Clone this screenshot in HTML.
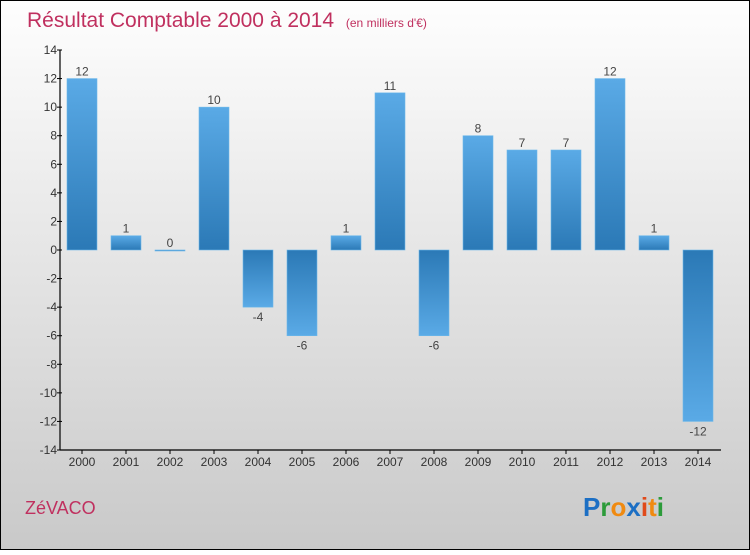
<!DOCTYPE html>
<html><head><meta charset="utf-8"><style>
body{margin:0;width:750px;height:550px;overflow:hidden;font-family:"Liberation Sans",sans-serif}
</style></head><body>
<svg width="750" height="550" xmlns="http://www.w3.org/2000/svg">
<defs>
<linearGradient id="bg" x1="0" y1="0" x2="0" y2="1"><stop offset="0" stop-color="#fefefe"/><stop offset="1" stop-color="#c9c9c9"/></linearGradient>
<linearGradient id="gp" x1="0" y1="0" x2="0" y2="1"><stop offset="0" stop-color="#5aaae6"/><stop offset="1" stop-color="#2b79b6"/></linearGradient>
<linearGradient id="gn" x1="0" y1="0" x2="0" y2="1"><stop offset="0" stop-color="#2b79b6"/><stop offset="1" stop-color="#5aaae6"/></linearGradient>
</defs>
<rect x="0.5" y="0.5" width="749" height="549" fill="url(#bg)" stroke="#000"/>
<text x="27" y="27" font-size="21" fill="#c0305f">Résultat Comptable 2000 à 2014 <tspan font-size="12" dx="6">(en milliers d'€)</tspan></text>
<g id="plot"></g>
<text x="25" y="514" font-size="18" fill="#c0305f">ZéVACO</text>
<text x="583" y="516" font-size="26" font-weight="bold"><tspan fill="#1c6fc4">P</tspan><tspan fill="#2c9b3a">r</tspan><tspan fill="#f08a10">o</tspan><tspan fill="#1c6fc4">x</tspan><tspan fill="#e04a1a">i</tspan><tspan fill="#f08a10">t</tspan><tspan fill="#2c9b3a">i</tspan></text>
</svg>
<script>
const years=["2000","2001","2002","2003","2004","2005","2006","2007","2008","2009","2010","2011","2012","2013","2014"];
const values=[12,1,0,10,-4,-6,1,11,-6,8,7,7,12,1,-12];
const yTicks=[14,12,10,8,6,4,2,0,-2,-4,-6,-8,-10,-12,-14];
const NS="http://www.w3.org/2000/svg";
const g=document.getElementById('plot');
const x0=60,x1=721,yTop=50,yBot=450,vMax=14,vMin=-14;
const band=44;
function y(v){return yTop+(vMax-v)/(vMax-vMin)*(yBot-yTop);}
function xc(i){return x0+22+i*band;}
function el(t,a){const e=document.createElementNS(NS,t);for(const k in a)e.setAttribute(k,a[k]);g.appendChild(e);return e;}
values.forEach((v,i)=>{
  const top=Math.min(y(v),y(0)),h=Math.max(Math.abs(y(v)-y(0)),1);
  const r=el('rect',{x:xc(i)-15,y:top,width:30,height:h,fill:v>=0?'url(#gp)':'url(#gn)',stroke:'#6db8ea','stroke-width':0.6});
  
  
  const t=el('text',{x:xc(i),y:v>=0?y(v)-3:y(v)+14,'text-anchor':'middle','font-size':12,fill:'#444'});
  t.textContent=(v<0?'-'+Math.abs(v):v);
  
  
  el('line',{x1:xc(i),x2:xc(i),y1:yBot,y2:yBot+4,stroke:'#000'});
  const xl=el('text',{x:xc(i),y:yBot+16,'text-anchor':'middle','font-size':12,fill:'#333'});
  xl.textContent=years[i];
  
  
});
yTicks.forEach(v=>{
  el('line',{x1:x0-3,x2:x0+2,y1:y(v),y2:y(v),stroke:'#000'});
  const t=el('text',{x:x0-3,y:y(v)+4,'text-anchor':'end','font-size':12,fill:'#333'});
  t.textContent=v<0?'-'+Math.abs(v):v;
  
  
});
const ya=el('line',{x1:x0,x2:x0,y1:yTop,y2:yBot,stroke:'#000','stroke-width':1.2});


const xa=el('line',{x1:x0,x2:x1,y1:yBot,y2:yBot,stroke:'#000','stroke-width':1.2});


</script>
</body></html>
